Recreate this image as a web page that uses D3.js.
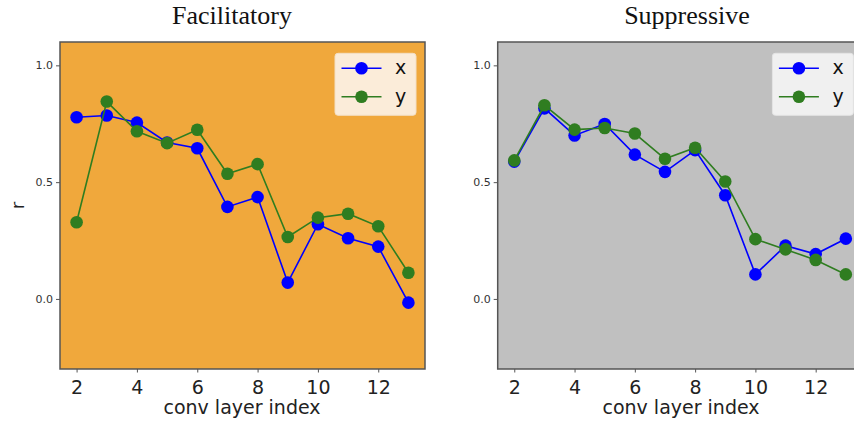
<!DOCTYPE html>
<html>
<head>
<meta charset="utf-8">
<script src="https://cdn.jsdelivr.net/npm/d3@7"></script>
<style>
  body { margin: 0; background: #fff; }
  svg { display: block; font-family: "DejaVu Sans", sans-serif; }
</style>
</head>
<body>
<div id="viz"></div>
<script>
const width = 854;
const height = 425;

// conv layers on the x axis
const layers = [2, 3, 4, 5, 6, 7, 8, 9, 10, 11, 12, 13];
const xTicks = [2, 4, 6, 8, 10, 12];
const yTicks = [0.0, 0.5, 1.0];

// Facilitatory
const facX = [0.778, 0.785, 0.755, 0.67, 0.645, 0.394, 0.436, 0.07, 0.32, 0.26, 0.224, -0.016];
const facY = [0.328, 0.845, 0.718, 0.667, 0.724, 0.536, 0.577, 0.265, 0.348, 0.365, 0.311, 0.112];

// Suppressive
const supX = [0.588, 0.816, 0.70, 0.749, 0.618, 0.544, 0.637, 0.444, 0.105, 0.228, 0.192, 0.258];
const supY = [0.593, 0.829, 0.725, 0.732, 0.708, 0.60, 0.647, 0.503, 0.256, 0.212, 0.167, 0.105];

const series = [
  { key: 'x', color: '#0000ff' },
  { key: 'y', color: '#2f7d20' }
];

const panels = [
  { title: 'Facilitatory', left: 60, right: 425, titleX: 232, labelX: 242, bg: '#f0a83c', legendBg: '#fbecd9', legendStroke: '#f3dfc4', values: [facX, facY], ylabel: true },
  { title: 'Suppressive', left: 497.7, right: 862.4, titleX: 687, labelX: 681, bg: '#c0c0c0', legendBg: '#f0f0f0', legendStroke: '#e4e4e4', values: [supX, supY], ylabel: false }
];

const plotTop = 42;
const plotBottom = 369;

const svg = d3.select('#viz')
  .append('svg')
    .attr('width', width)
    .attr('height', height);

const drawPanel = (p) => {
  const x = d3.scaleLinear().domain([1.45, 13.55]).range([p.left, p.right]);
  const y = d3.scaleLinear().domain([-0.3, 1.1]).range([plotBottom, plotTop]);

  const g = svg.append('g');

  g.append('rect')
    .attr('x', p.left).attr('y', plotTop)
    .attr('width', p.right - p.left).attr('height', plotBottom - plotTop)
    .attr('fill', p.bg)
    .attr('stroke', '#555').attr('stroke-width', 1.5);

  // x axis
  const xAxis = g.append('g')
    .attr('transform', `translate(0,${plotBottom})`)
    .call(d3.axisBottom(x).tickValues(xTicks).tickSize(3.5).tickSizeOuter(0).tickPadding(8));
  xAxis.select('.domain').remove();
  xAxis.selectAll('line').attr('stroke', '#555');
  xAxis.selectAll('text')
    .style('font-size', '19px').attr('fill', '#222')
    .style('font-family', '"DejaVu Sans", sans-serif');

  // y axis
  const yAxis = g.append('g')
    .attr('transform', `translate(${p.left},0)`)
    .call(d3.axisLeft(y).tickValues(yTicks).tickFormat(d3.format('.1f')).tickSize(4).tickSizeOuter(0).tickPadding(3));
  yAxis.select('.domain').remove();
  yAxis.selectAll('line').attr('stroke', '#555');
  yAxis.selectAll('text')
    .style('font-size', '11px').attr('fill', '#333')
    .style('font-family', '"DejaVu Sans", sans-serif');

  g.append('text')
    .attr('x', p.titleX)
    .attr('y', 24)
    .attr('text-anchor', 'middle')
    .style('font-family', '"Liberation Serif", "DejaVu Serif", serif')
    .style('font-size', '26px')
    .attr('fill', '#111')
    .text(p.title);

  g.append('text')
    .attr('x', p.labelX)
    .attr('y', 414)
    .attr('text-anchor', 'middle')
    .style('font-size', '19px')
    .attr('fill', '#222')
    .text('conv layer index');

  if (p.ylabel) {
    g.append('text')
      .attr('transform', `translate(24, ${(plotTop + plotBottom) / 2}) rotate(-90)`)
      .attr('text-anchor', 'middle')
      .style('font-size', '18px')
      .attr('fill', '#222')
      .text('r');
  }

  const line = d3.line()
    .x((d, i) => x(layers[i]))
    .y(d => y(d));

  series.forEach((s, si) => {
    const vals = p.values[si];
    g.append('path')
      .attr('d', line(vals))
      .attr('fill', 'none')
      .attr('stroke', s.color)
      .attr('stroke-width', 1.6);
    g.append('g')
      .selectAll('circle')
      .data(vals)
      .join('circle')
        .attr('cx', (d, i) => x(layers[i]))
        .attr('cy', d => y(d))
        .attr('r', 6.3)
        .attr('fill', s.color);
  });

  // legend
  const lx = p.right - 9 - 81;
  const ly = 53.3;
  const legend = g.append('g').attr('transform', `translate(${lx},${ly})`);
  legend.append('rect')
    .attr('width', 81).attr('height', 62)
    .attr('rx', 3)
    .attr('fill', p.legendBg)
    .attr('stroke', p.legendStroke)
    .attr('stroke-width', 1);
  const items = legend.selectAll('g.item')
    .data(series)
    .join('g')
      .attr('class', 'item')
      .attr('transform', (d, i) => `translate(0,${15 + i * 28.4})`);
  items.append('line')
    .attr('x1', 6.5).attr('x2', 46.5)
    .attr('stroke', d => d.color).attr('stroke-width', 1.6);
  items.append('circle')
    .attr('cx', 26.5).attr('r', 6.3)
    .attr('fill', d => d.color);
  items.append('text')
    .attr('x', 60).attr('y', 6)
    .style('font-size', '19px')
    .attr('fill', '#111')
    .text(d => d.key);
};

panels.forEach(drawPanel);
</script>
</body>
</html>
